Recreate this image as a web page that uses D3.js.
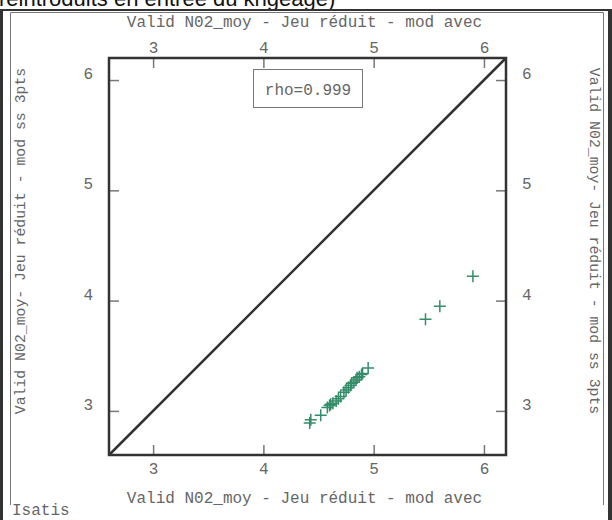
<!DOCTYPE html>
<html><head><meta charset="utf-8">
<script src="https://cdn.jsdelivr.net/npm/d3@7"></script>
<style>body{margin:0;background:#fff}svg{display:block}</style>
</head><body>
<script>
const xValues = [4.42,4.43,4.52,4.58,4.60,4.61,4.63,4.66,4.68,4.70,4.73,4.75,4.77,4.79,4.80,4.82,4.84,4.85,4.87,4.89,4.90,4.95,5.47,5.60,5.90];
const yValues = [2.89,2.92,2.96,3.03,3.05,3.06,3.07,3.09,3.11,3.13,3.17,3.19,3.21,3.23,3.25,3.26,3.28,3.30,3.31,3.33,3.34,3.39,3.83,3.95,4.22];
const tickValues = [3,4,5,6];
const domain = [2.6,6.2];
const xTitle = "Valid N02_moy - Jeu réduit - mod avec";
const yTitle = "Valid N02_moy- Jeu réduit - mod ss 3pts";
const rhoText = "rho=0.999";
const headerText = "réintroduits en entrée du krigeage)";
const footerText = "Isatis";

const W=612,H=520;
const svg=d3.select("body").append("svg").attr("width",W).attr("height",H);
const mono="'Liberation Mono','DejaVu Sans Mono',monospace";
const txt="#666";
const L=109,R=506,T=58,B=455;
const x=d3.scaleLinear().domain(domain).range([L,R]);
const y=d3.scaleLinear().domain(domain).range([B,T]);

// header cut text
svg.append("text").attr("x",-1).attr("y",6).attr("font-family","'Liberation Sans',Arial,sans-serif")
  .attr("font-size",22).attr("fill","#111").text(headerText);
// outer dark frame
svg.append("line").attr("x1",0).attr("x2",W).attr("y1",10).attr("y2",10).attr("stroke","#333").attr("stroke-width",2);
svg.append("rect").attr("x",0).attr("y",9).attr("width",3).attr("height",H-9).attr("fill","#333");
svg.append("rect").attr("x",608).attr("y",9).attr("width",4).attr("height",H-9).attr("fill","#333");
// inner gray box
svg.append("path").attr("d","M10.5,505 V12.5 H603.5 V505").attr("fill","none").attr("stroke","#777").attr("stroke-width",1);

const tickLen=10;
const axB=d3.axisBottom(x).tickValues(tickValues).tickSize(-tickLen).tickFormat(d3.format("d"));
const axT=d3.axisTop(x).tickValues(tickValues).tickSize(-tickLen).tickFormat(d3.format("d"));
const axL=d3.axisLeft(y).tickValues(tickValues).tickSize(-tickLen).tickFormat(d3.format("d"));
const axR=d3.axisRight(y).tickValues(tickValues).tickSize(-tickLen).tickFormat(d3.format("d"));
function style(sel){
  sel.select(".domain").remove();
  sel.selectAll(".tick line").attr("stroke","#777").attr("stroke-width",1.5);
  sel.selectAll(".tick text").attr("font-family",mono).attr("font-size",16).attr("fill",txt);
}
const gb=svg.append("g").attr("transform",`translate(0,${B})`).call(axB).call(style);
gb.selectAll(".tick text").attr("y",8).attr("dy","0.71em");
const gt=svg.append("g").attr("transform",`translate(0,${T})`).call(axT).call(style);
gt.selectAll(".tick text").attr("y",-5);
const gl=svg.append("g").attr("transform",`translate(${L},0)`).call(axL).call(style);
gl.selectAll(".tick text").attr("x",-16).attr("dy","-0.1em");
const gr=svg.append("g").attr("transform",`translate(${R},0)`).call(axR).call(style);
gr.selectAll(".tick text").attr("x",16).attr("dy","-0.1em");

// titles
svg.append("text").attr("x",(L+R)/2-3).attr("y",27).attr("text-anchor","middle").attr("font-family",mono).attr("font-size",16).attr("fill",txt).text(xTitle);
svg.append("text").attr("x",(L+R)/2-3).attr("y",503).attr("text-anchor","middle").attr("font-family",mono).attr("font-size",16).attr("fill",txt).text(xTitle);
svg.append("text").attr("transform","translate(25,241) rotate(-90)").attr("text-anchor","middle").attr("font-family",mono).attr("font-size",14.8).attr("fill",txt).text(yTitle);
svg.append("text").attr("transform","translate(590,241) rotate(90)").attr("text-anchor","middle").attr("font-family",mono).attr("font-size",14.8).attr("fill",txt).text(yTitle);
svg.append("text").attr("x",12).attr("y",515).attr("font-family",mono).attr("font-size",16).attr("fill",txt).text(footerText);

// diagonal
svg.append("line").attr("x1",x(domain[0])).attr("y1",y(domain[0])).attr("x2",x(domain[1])).attr("y2",y(domain[1]))
  .attr("stroke","#333").attr("stroke-width",2.5);
// frame
svg.append("rect").attr("x",L).attr("y",T).attr("width",R-L).attr("height",B-T).attr("fill","none").attr("stroke","#333").attr("stroke-width",2.5);

// rho box
svg.append("rect").attr("x",253.5).attr("y",69.5).attr("width",109).attr("height",38).attr("fill","#fff").attr("stroke","#777").attr("stroke-width",1);
svg.append("text").attr("x",308).attr("y",95).attr("text-anchor","middle").attr("font-family",mono).attr("font-size",16).attr("fill",txt).text(rhoText);

// markers
const pts=xValues.map((v,i)=>[v,yValues[i]]);
svg.append("g").selectAll("path").data(pts).join("path")
  .attr("d",d=>{const px=x(d[0]),py=y(d[1]);return `M${px-6},${py}H${px+6}M${px},${py-6}V${py+6}`;})
  .attr("stroke","#348d69").attr("stroke-width",1.5).attr("fill","none");
</script>
</body></html>
